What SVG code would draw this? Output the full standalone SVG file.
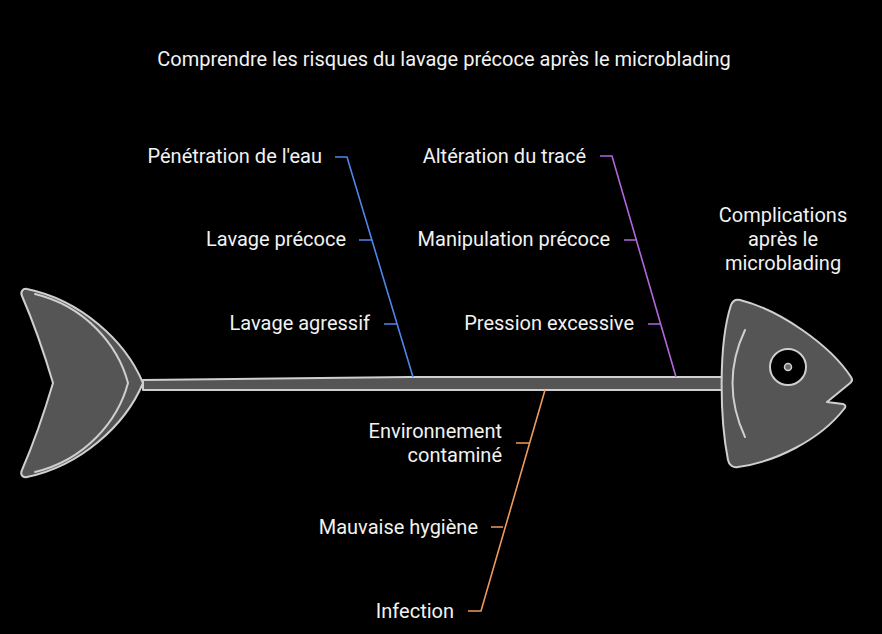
<svg xmlns="http://www.w3.org/2000/svg" width="882" height="634" viewBox="0 0 882 634">
<style>
text{font-family:Roboto,"Liberation Sans",sans-serif;fill:#f2f2f2;font-size:20px}
.r{text-anchor:end}
.c{text-anchor:middle}
.bone{fill:#555555;stroke:#cfcfcf;stroke-width:2;stroke-linejoin:round}
.ln{fill:none;stroke:#cfcfcf;stroke-width:2;stroke-linecap:round}
.blue{fill:none;stroke:#4f86ea;stroke-width:1.6}
.purple{fill:none;stroke:#b466dd;stroke-width:1.6}
.orange{fill:none;stroke:#ee9a5c;stroke-width:1.6}
</style>
<rect width="882" height="634" fill="#000"/>
<text id="title" class="c" x="444" y="66">Comprendre les risques du lavage précoce après le microblading</text>
<g id="tail">
<path class="bone" d="M27,289 C80,300 125,340 143,383 C125,426 80,466 27,477 C22,478 20,474 22,470 C35,440 45,410 53,383 C45,356 35,326 22,296 C20,292 23,288 27,289 Z"/>
<path class="ln" d="M35,294 C85,306 118,345 128,383 C118,421 85,460 35,472"/>
</g>
<g id="spine">
<path class="bone" d="M143,380 L410,377 L724,377 L724,390 L143,390 Z"/>
</g>
<g id="head">
<path class="bone" d="M740,300 C780,310 830,345 851,377 C853,380 852,382 849,384 L827,402 L843,404 C846,405 846,407 844,409 C820,440 775,462 738,467 C733,468 729,465 728,460 C720,420 718,345 731,305 C733,300 736,299 740,300 Z"/>
<path class="ln" d="M745,330 Q720,383 745,437"/>
<circle cx="788" cy="367" r="18" fill="#000" stroke="#cfcfcf" stroke-width="2"/>
<circle cx="788" cy="367" r="3.5" fill="#6a6a6a" stroke="#cfcfcf" stroke-width="1.5"/>
<text class="c" x="783" y="222">Complications</text>
<text class="c" x="783" y="246">après le</text>
<text class="c" x="783" y="270">microblading</text>
</g>
<g id="connectors">
<path class="blue" d="M335,157 H347 L413,377 M359,240 H372 M384,324 H397"/>
<path class="purple" d="M600,156 H612 L676,377 M624,240 H636 M648,324 H661"/>
<path class="orange" d="M545,390 L481,611 H468 M516,443 H529 M491,527 H503"/>
</g>
<g id="cause-water">
<text class="r" x="322" y="163">Pénétration de l'eau</text>
<text class="r" x="346" y="246">Lavage précoce</text>
<text class="r" x="370" y="330">Lavage agressif</text>
</g>
<g id="cause-manip">
<text class="r" x="586" y="163">Altération du tracé</text>
<text class="r" x="610" y="246">Manipulation précoce</text>
<text class="r" x="634" y="330">Pression excessive</text>
</g>
<g id="cause-infection">
<text class="r" x="502" y="438">Environnement</text>
<text class="r" x="502" y="462">contaminé</text>
<text class="r" x="478" y="534">Mauvaise hygiène</text>
<text class="r" x="454" y="618">Infection</text>
</g>
</svg>
